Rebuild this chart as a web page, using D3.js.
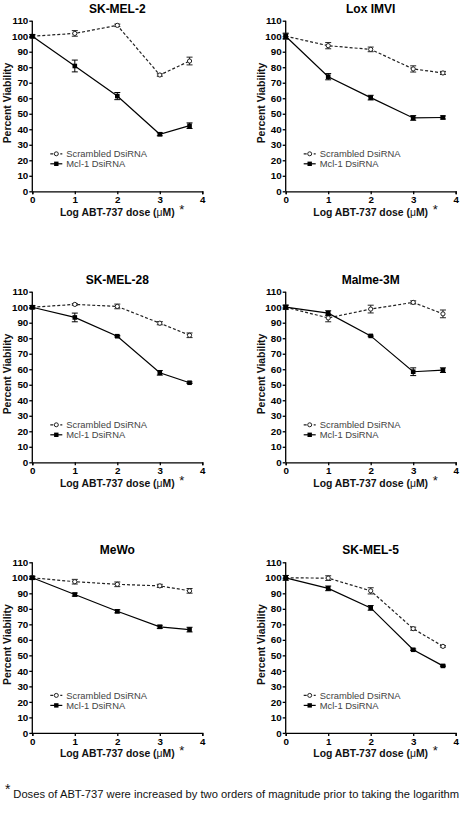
<!DOCTYPE html>
<html><head><meta charset="utf-8">
<script src="https://cdn.jsdelivr.net/npm/d3@7"></script>
<style>
html,body{margin:0;padding:0;background:#fff;}
text{font-family:"Liberation Sans",Arial,sans-serif;}
</style></head>
<body><svg id="chart" width="469" height="813"></svg>
<script>
const cellLines = ["SK-MEL-2","Lox IMVI","SK-MEL-28","Malme-3M","MeWo","SK-MEL-5"];
const logDose = [0,1,2,3,3.7];
const scrambled = [
  [100,101.8,107,75,84],
  [100,93.9,91.5,78.9,76.3],
  [100,101.8,100.5,89.7,81.9],
  [100,93.1,98.8,103.1,95.7],
  [100,97.5,95.8,94.8,91.6],
  [100,99.8,91.6,67.2,55.8]
];
const scrambledErr = [
  [1,1.8,0.8,0.8,2.5],
  [2,2,1.5,2,1],
  [1,0.5,1.5,1,1.5],
  [1.5,2.5,2.5,1,2.5],
  [1,1.5,1.5,1,1.5],
  [1.5,1.5,2,1,0.5]
];
const mcl1 = [
  [100,80.8,61.4,36.8,42.3],
  [100,73.9,60.4,47.3,47.6],
  [100,93.4,81.3,57.7,51.3],
  [100,96.2,81.5,58.4,59.4],
  [100,89.2,78.4,68.4,66.6],
  [100,93.2,80.6,53.6,43.2]
];
const mcl1Err = [
  [1,3.8,2.3,1,1.8],
  [1.5,2,1.5,1.5,1],
  [1,2.8,0.5,1.5,0.5],
  [1,1.5,0.5,2.5,1.5],
  [1,1,1,1,1.5],
  [1.5,1.5,1.5,0.5,0.5]
];
const seriesNames = ["Scrambled DsiRNA","Mcl-1 DsiRNA"];
const xTicks = [0,1,2,3,4];
const yTicks = d3.range(0,111,10);
const yTitle = "Percent Viability";
const footnote = "Doses of ABT-737 were increased by two orders of magnitude prior to taking the logarithm";

const svg = d3.select("#chart");
const colX = [32.3, 285.7];
const rowY = [20.7, 291.7, 562.3];
const W = 170, H = 170.6;

cellLines.forEach((name,i)=>{
  const ox = colX[i%2], oy = rowY[Math.floor(i/2)];
  const g = svg.append("g").attr("transform",`translate(${ox},${oy})`);
  const x = d3.scaleLinear().domain([0,4]).range([0,W]);
  const y = d3.scaleLinear().domain([0,110]).range([H,0]);

  // axes
  const ya = g.append("g").call(d3.axisLeft(y).tickValues(yTicks).tickSize(3).tickPadding(1));
  const xa = g.append("g").attr("transform",`translate(0,${H})`).call(d3.axisBottom(x).tickValues(xTicks).tickSize(3).tickPadding(2).tickFormat(d3.format("d")));
  [ya,xa].forEach(a=>{
    a.select(".domain").attr("stroke","#000").attr("stroke-width",1.3);
    a.selectAll(".tick line").attr("stroke","#000").attr("stroke-width",1.3);
    a.selectAll("text").attr("font-family","'Liberation Sans',Arial,sans-serif").attr("font-size","9.8px").attr("font-weight","bold").attr("fill","#000");
  });
  ya.selectAll(".domain").attr("d",`M-3,0.5H0V${H}H-3`).attr("d",`M0,0V${H}`);

  // title
  g.append("text").attr("x",W/2).attr("y",-8).attr("text-anchor","middle")
    .attr("font-size","12px").attr("font-weight","bold").text(name);
  // y title
  g.append("text").attr("transform",`translate(${-21},${H/2 - 3}) rotate(-90)`)
    .attr("text-anchor","middle").attr("font-size","10.4px").attr("font-weight","bold").attr("fill","#111").text(yTitle);
  // x title
  const xt = g.append("text").attr("x",W/2).attr("y",H+24.5).attr("text-anchor","middle")
    .attr("font-size","10.4px").attr("font-weight","bold").attr("fill","#111");
  xt.append("tspan").text("Log ABT-737 dose (");
  xt.append("tspan").attr("font-weight","normal").text("\u03bc");
  xt.append("tspan").text("M)");
  g.append("text").attr("x",W/2+62).attr("y",H+22.5).attr("font-size","13px").attr("fill","#111").text("*");

  const line = d3.line().x((d,j)=>x(logDose[j])).y(d=>y(d));
  const series = [
    {vals:scrambled[i], err:scrambledErr[i], color:"#222", dash:"3,2", shape:"circle"},
    {vals:mcl1[i], err:mcl1Err[i], color:"#000", dash:null, shape:"square"}
  ];
  series.forEach(s=>{
    g.append("path").datum(s.vals).attr("d",line).attr("fill","none")
      .attr("stroke",s.color).attr("stroke-width",1.2).attr("stroke-dasharray",s.dash);
    // error bars
    const eb = g.append("g").attr("stroke",s.color).attr("stroke-width",1);
    s.vals.forEach((v,j)=>{
      const e = s.err[j], cx = x(logDose[j]);
      eb.append("line").attr("x1",cx).attr("x2",cx).attr("y1",y(v-e)).attr("y2",y(v+e));
      eb.append("line").attr("x1",cx-3).attr("x2",cx+3).attr("y1",y(v-e)).attr("y2",y(v-e));
      eb.append("line").attr("x1",cx-3).attr("x2",cx+3).attr("y1",y(v+e)).attr("y2",y(v+e));
    });
    s.vals.forEach((v,j)=>{
      const cx = x(logDose[j]), cy = y(v);
      if(s.shape==="circle"){
        g.append("circle").attr("cx",cx).attr("cy",cy).attr("r",2.1).attr("fill","#fff").attr("stroke",s.color).attr("stroke-width",1);
      } else {
        g.append("rect").attr("x",cx-2.3).attr("y",cy-2.3).attr("width",4.6).attr("height",4.6).attr("fill",s.color);
      }
    });
  });

  // legend
  const lg = g.append("g").attr("transform",`translate(18,${H-37.5})`);
  series.forEach((s,k)=>{
    const ly = k*10;
    lg.append("line").attr("x1",0).attr("x2",12).attr("y1",ly).attr("y2",ly)
      .attr("stroke",s.color).attr("stroke-width",1.2).attr("stroke-dasharray",s.dash);
    if(s.shape==="circle"){
      lg.append("circle").attr("cx",6).attr("cy",ly).attr("r",2).attr("fill","#fff").attr("stroke",s.color);
    } else {
      lg.append("rect").attr("x",3.8).attr("y",ly-2.2).attr("width",4.4).attr("height",4.4).attr("fill",s.color);
    }
    lg.append("text").attr("x",16).attr("y",ly+3.4).attr("font-size","9.4px").attr("fill","#444").text(seriesNames[k]);
  });
});

// footnote
svg.append("text").attr("x",5).attr("y",794).attr("font-size","14px").attr("fill","#111").text("*");
svg.append("text").attr("x",13.3).attr("y",798).attr("font-size","11.2px").attr("fill","#111").text(footnote);
</script>
</body></html>
